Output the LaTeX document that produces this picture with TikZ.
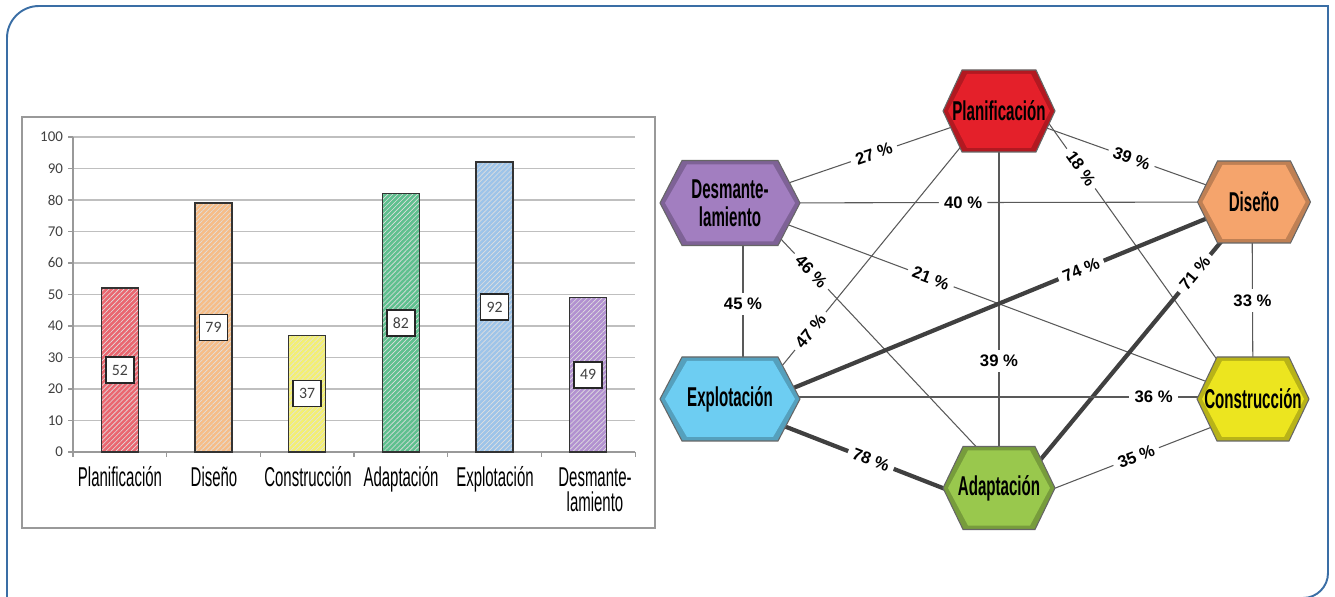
\documentclass[tikz,border=0pt]{standalone}
\usepackage{fontspec}
\usepackage{tikz}
\usetikzlibrary{calc}
\usetikzlibrary{patterns.meta}
\usetikzlibrary{backgrounds}

\newfontfamily\hexfont{Liberation Sans}[FakeStretch=0.555]
\newfontfamily\catfont{Liberation Sans}[FakeStretch=0.55]
\newfontfamily\pctfont{Liberation Sans}
\newfontfamily\numfont{Carlito}

\definecolor{frameblue}{HTML}{3A6EA5}
\definecolor{barred}{HTML}{EA6770}
\definecolor{barorange}{HTML}{F6BD88}
\definecolor{baryellow}{HTML}{F3EF72}
\definecolor{bargreen}{HTML}{5FC08F}
\definecolor{barblue}{HTML}{9EC4E9}
\definecolor{barpurple}{HTML}{B291D0}
\definecolor{hexred}{HTML}{E4202A}
\definecolor{hexpurple}{HTML}{A27EC0}
\definecolor{hexorange}{HTML}{F5A46C}
\definecolor{hexblue}{HTML}{6DCDF2}
\definecolor{hexyellow}{HTML}{ECE51F}
\definecolor{hexgreen}{HTML}{99C84D}

\tikzset{
  outerframe/.style={draw=frameblue, line width=1.1pt},
  chartbox/.style={draw=black!40, line width=0.8pt},
  gridline/.style={draw=black!25, line width=0.6pt},
  axisline/.style={draw=black!40, line width=0.6pt},
  barline/.style={draw=black!80, line width=0.9pt},
  hatch/.style={pattern={Lines[angle=45, distance=2pt, line width=0.35pt]}, pattern color=black!12},
  ylab/.style={anchor=east, inner sep=1pt, text=black!75, font=\numfont\fontsize{8.5}{10}\selectfont},
  valbox/.style={draw=black!85, fill=white, line width=0.8pt, minimum width=0.56cm, minimum height=0.52cm, inner sep=0pt, text=black!75, font=\numfont\fontsize{9}{10}\selectfont},
  catlab/.style={anchor=base, align=center, inner sep=0pt, font=\catfont\fontsize{15.5}{14.3}\selectfont},
  hexline/.style={draw=black!60, line width=0.6pt},
  hexlabel/.style={align=center, inner sep=0pt, font=\hexfont\bfseries\fontsize{15.5}{15.9}\selectfont},
  thinedge/.style={draw=black!65, line width=0.6pt},
  thickedge/.style={draw=black!75, line width=2.4pt},
  pct/.style={fill=white, inner xsep=3pt, inner ysep=2pt, sloped, font=\pctfont\bfseries\fontsize{9.5}{11}\selectfont},
  pctflat/.style={fill=white, inner xsep=3pt, inner ysep=3pt, font=\pctfont\bfseries\fontsize{9.5}{11}\selectfont}
}

\begin{document}
\begin{tikzpicture}[x=0.02cm, y=-0.02cm]
          \useasboundingbox (0,0) rectangle (1335,597);
          % outer frame
          \begin{scope}
          \clip (0,0) rectangle (1335,597);
          \draw[outerframe] (7,610) -- (7,38) arc[start angle=180, end angle=90, radius=0.64cm] -- (1328,6) -- (1328,573) arc[start angle=0, end angle=-90, radius=0.5cm] -- (1100,598);
          \end{scope}
          % chart frame
          \draw[chartbox] (22,117) rectangle (655,528);
          % grid lines and values
          \foreach \v in {0, 10, ..., 100}
          {
          \draw[gridline] (73,{452-3.15*\v}) -- (635,{452-3.15*\v});
          \draw[axisline] (68,{452-3.15*\v}) -- (73,{452-3.15*\v});
          \node[ylab] (y\v) at (65,{452-3.15*\v}) {\v};
          }
          % axes
          \draw[axisline] (73,137) -- (73,452) -- (635,452);
          \foreach \i in {0, ..., 6}
          {
          \draw[axisline] ({73+93.67*\i},452) -- ++(0,5);
          }
          % bars
          \foreach \i/\v/\c in {1/52/barred, 2/79/barorange, 3/37/baryellow, 4/82/bargreen, 5/92/barblue, 6/49/barpurple}
          {
          \fill[\c] ({73+93.67*(\i-0.5)-18.5},452) rectangle ++(37,{-3.15*\v});
          \fill[hatch] ({73+93.67*(\i-0.5)-18.5},452) rectangle ++(37,{-3.15*\v});
          \draw[barline] ({73+93.67*(\i-0.5)-18.5},452) rectangle ++(37,{-3.15*\v});
          \node[valbox] (val\i) at ({73+93.67*(\i-0.5)},{452-1.575*\v}) {\v};
          }
          % category names
          \foreach \i/\x/\y/\t in {1/120/487/Planificación, 2/214/487/Diseño, 3/308/487/Construcción, 4/401/487/Adaptación, 5/495/487/Explotación, 6/595/512/{Desmante-\\lamiento}}
          {
          \node[catlab] (cat\i) at (\x,\y) {\t};
          }
          % hexagons
          \foreach \n/\x/\y/\W/\H/\d/\c/\t in {plan/999/111/56/41/19/hexred/Planificación, desm/730/203/70/42.5/22/hexpurple/{Desmante-\\lamiento}, dis/1254/202/56.5/41/20/hexorange/Diseño, expl/730/399/70/42/22/hexblue/Explotación, cons/1253/399/56/42/20/hexyellow/Construcción, adap/999/488/56/41.5/20/hexgreen/Adaptación}
          {
          \filldraw[hexline, fill=\c!78!black] ({\x-\W},\y) -- ({\x-\W+\d},{\y-\H}) -- ({\x+\W-\d},{\y-\H}) -- ({\x+\W},\y) -- ({\x+\W-\d},{\y+\H}) -- ({\x-\W+\d},{\y+\H}) -- cycle;
          \fill[\c] ({\x-\W+5},\y) -- ({\x-\W+\d+5},{\y-\H+4}) -- ({\x+\W-\d-5},{\y-\H+4}) -- ({\x+\W-5},\y) -- ({\x+\W-\d-5},{\y+\H-4}) -- ({\x-\W+\d+5},{\y+\H-4}) -- cycle;
          \node[hexlabel] (\n) at (\x,\y) {\t};
          }
          % links
          \begin{scope}[on background layer]
          \draw[thinedge] (desm.center) -- node[pct, pos=0.535] {27 \%} (plan.center);
          \draw[thinedge] (plan.center) -- node[pct, pos=0.52] {39 \%} (dis.center);
          \draw[thinedge] ($(plan)+(41,0)$) -- node[pct, pos=0.2] {18 \%} ($(cons)+(-8,0)$);
          \draw[thinedge] (plan.center) -- node[pctflat, pos=0.663] {39 \%} (adap.center);
          \draw[thinedge] ($(plan)+(-9,0)$) -- node[pct, pos=0.764] {47 \%} ($(expl)+(25,0)$);
          \draw[thinedge] (desm.center) -- node[pct, pos=0.445] {40 \%} (dis.center);
          \draw[thinedge] (desm.center) -- node[pct, pos=0.384] {21 \%} (cons.center);
          \draw[thinedge] ($(desm)+(17,0)$) -- node[pct, pos=0.24] {46 \%} ($(adap)+(16,0)$);
          \draw[thinedge] ($(desm)+(13,0)$) -- node[pctflat, pos=0.515] {45 \%} ($(expl)+(13,0)$);
          \draw[thickedge] ($(expl)+(0,15)$) -- node[pct, pos=0.67] {74 \%} ($(dis)+(0,-3)$);
          \draw[thickedge] (dis.center) -- node[pct, pos=0.25] {71 \%} ($(adap)+(18,0)$);
          \draw[thinedge] ($(dis)+(-2,0)$) -- node[pctflat, pos=0.5] {33 \%} (cons.center);
          \draw[thinedge] ($(expl)+(0,-2)$) -- node[pct, pos=0.81] {36 \%} ($(cons)+(0,-2)$);
          \draw[thickedge] ($(expl)+(0,6)$) -- node[pct, pos=0.524] {78 \%} ($(adap)+(0,22)$);
          \draw[thinedge] ($(adap)+(0,22)$) -- node[pct, pos=0.54] {35 \%} ($(cons)+(0,12)$);
          \end{scope}
        \end{tikzpicture}
\end{document}
